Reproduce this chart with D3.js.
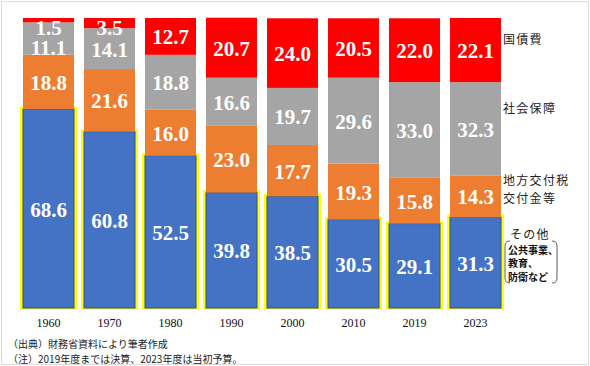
<!DOCTYPE html>
<html>
<head>
<meta charset="utf-8">
<script src="https://cdn.jsdelivr.net/npm/d3@7"></script>
<style>
  html, body { margin: 0; padding: 0; background: #fff; }
  svg { display: block; }
</style>
</head>
<body>
<script>
// Data (shares of general account spending, %)
const years = ["1960", "1970", "1980", "1990", "2000", "2010", "2019", "2023"];
const other = [68.6, 60.8, 52.5, 39.8, 38.5, 30.5, 29.1, 31.3];
const localTax = [18.8, 21.6, 16.0, 23.0, 17.7, 19.3, 15.8, 14.3];
const social = [11.1, 14.1, 18.8, 16.6, 19.7, 29.6, 33.0, 32.3];
const debt = [1.5, 3.5, 12.7, 20.7, 24.0, 20.5, 22.0, 22.1];
const seriesNames = ["その他", "地方交付税交付金等", "社会保障", "国債費"];
const notes = ["（出典）財務省資料により筆者作成", "（注）2019年度までは決算、2023年度は当初予算。"];

const W = 590, H = 366;
const colors = ["#4472C4", "#ED7D31", "#A5A5A5", "#FF0000"];

const svg = d3.select("body").append("svg")
  .attr("width", W)
  .attr("height", H);

// light frame around the picture
svg.append("rect")
  .attr("x", 1.5).attr("y", 1.5)
  .attr("width", W - 3).attr("height", H - 3)
  .attr("fill", "none")
  .attr("stroke", "#dcdcdc");

const x = d3.scaleBand()
  .domain(years)
  .range([18, 506])
  .paddingInner(0.164)
  .paddingOuter(0.082);

const y = d3.scaleLinear()
  .domain([0, 100])
  .range([308, 18]);

const table = years.map((yr, i) => ({
  year: yr, s0: other[i], s1: localTax[i], s2: social[i], s3: debt[i]
}));
const stack = d3.stack().keys(["s0", "s1", "s2", "s3"])(table);

// small segments at the top of early bars get their labels pushed down
const labelNudge = { "1960-3": 7, "1960-2": 8.5, "1970-3": 4 };

const layers = svg.selectAll("g.layer")
  .data(stack)
  .enter()
  .append("g")
  .attr("class", "layer");

// yellow outline behind the blue segment
svg.insert("g", "g.layer")
  .selectAll("rect")
  .data(stack[0])
  .enter()
  .append("rect")
  .attr("x", d => x(d.data.year) - 3)
  .attr("y", d => y(d[1]) - 2.5)
  .attr("width", x.bandwidth() + 6)
  .attr("height", d => y(d[0]) - y(d[1]) + 4)
  .attr("fill", "#FFFF00");

layers.selectAll("rect")
  .data((d, i) => d.map(p => ({ p, i })))
  .enter()
  .append("rect")
  .attr("x", d => x(d.p.data.year))
  .attr("y", d => y(d.p[1]))
  .attr("width", x.bandwidth())
  .attr("height", d => y(d.p[0]) - y(d.p[1]))
  .attr("fill", d => colors[d.i])
  .attr("stroke", d => d.i === 0 ? "#2F528F" : "none")
  .attr("stroke-width", 1);

layers.selectAll("text")
  .data((d, i) => d.map(p => ({ p, i })))
  .enter()
  .append("text")
  .attr("x", d => x(d.p.data.year) + x.bandwidth() / 2)
  .attr("y", d => (y(d.p[0]) + y(d.p[1])) / 2 + 1 + (labelNudge[d.p.data.year + "-" + d.i] || 0))
  .attr("text-anchor", "middle")
  .attr("dominant-baseline", "central")
  .attr("font-family", "'Liberation Serif', 'Times New Roman', serif")
  .attr("font-weight", "bold")
  .attr("font-size", "21px")
  .attr("fill", "#fff")
  .text(d => (d.p[1] - d.p[0]).toFixed(1));

// x axis labels
const xAxis = svg.append("g")
  .attr("transform", "translate(0,314)")
  .call(d3.axisBottom(x).tickSize(0).tickPadding(4));
xAxis.select(".domain").remove();
xAxis.selectAll("text")
  .attr("font-family", "'Liberation Serif', 'Times New Roman', serif")
  .attr("font-size", "12px")
  .attr("fill", "#111");

// series labels at the right
const jp = "'Noto Sans CJK JP', 'Noto Sans', sans-serif";
const rightLabels = [
  { t: seriesNames[3], y: 38 },
  { t: seriesNames[2], y: 107 },
  { t: seriesNames[1].slice(0, 5), y: 179.5 },
  { t: seriesNames[1].slice(5), y: 197.5 },
  { t: seriesNames[0], y: 233, x: 510 }
];
svg.selectAll("text.rlab")
  .data(rightLabels)
  .enter()
  .append("text")
  .attr("class", "rlab")
  .attr("x", d => d.x || 503)
  .attr("y", d => d.y)
  .attr("dominant-baseline", "central")
  .attr("font-family", jp)
  .attr("font-size", "12px")
  .attr("letter-spacing", "1.3px")
  .attr("fill", "#222")
  .text(d => d.t);

// bracketed note under その他
const sub = ["公共事業、", "教育、", "防衛など"];
svg.selectAll("text.sub")
  .data(sub)
  .enter()
  .append("text")
  .attr("class", "sub")
  .attr("x", 508)
  .attr("y", (d, i) => 249 + i * 13.5)
  .attr("dominant-baseline", "central")
  .attr("font-family", jp)
  .attr("font-weight", "bold")
  .attr("font-size", "10px")
  .attr("fill", "#111")
  .text(d => d);

svg.append("path")
  .attr("d", "M510,241 Q505,241 505,246 L505,278 Q505,283 510,283")
  .attr("fill", "none").attr("stroke", "#333").attr("stroke-width", 0.8);
svg.append("path")
  .attr("d", "M552,241 Q557,241 557,246 L557,278 Q557,283 552,283")
  .attr("fill", "none").attr("stroke", "#333").attr("stroke-width", 0.8);

// source notes
svg.selectAll("text.note")
  .data(notes)
  .enter()
  .append("text")
  .attr("class", "note")
  .attr("x", 8)
  .attr("y", (d, i) => 343 + i * 15)
  .attr("dominant-baseline", "central")
  .attr("font-family", jp)
  .attr("font-size", "10px")
  .attr("fill", "#222")
  .text(d => d);
</script>
</body>
</html>
